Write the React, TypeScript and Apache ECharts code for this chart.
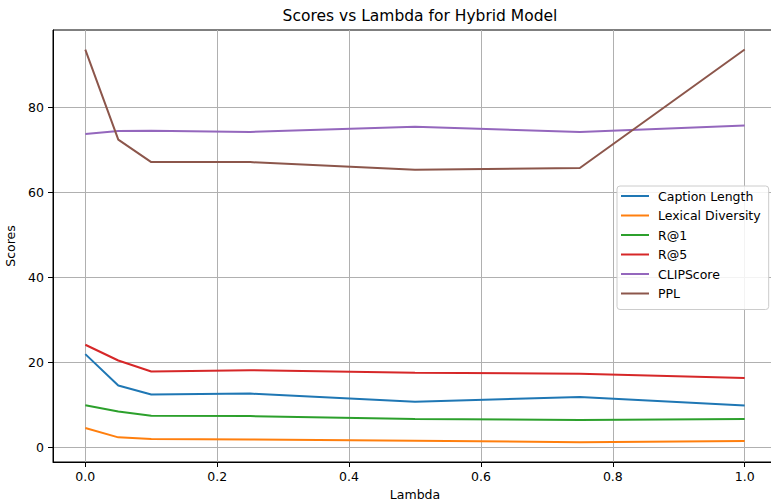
import React, { useEffect, useRef } from "react";
import * as echarts from "echarts";

const lambdas = [0, 0.05, 0.1, 0.25, 0.5, 0.75, 1.0];
const captionLength = [22.0, 14.6, 12.5, 12.7, 10.8, 11.9, 9.9];
const lexicalDiversity = [4.6, 2.4, 2.0, 1.9, 1.6, 1.25, 1.55];
const r1 = [9.95, 8.5, 7.5, 7.4, 6.7, 6.5, 6.7];
const r5 = [24.2, 20.5, 17.9, 18.2, 17.6, 17.4, 16.4];
const clipScore = [73.8, 74.5, 74.6, 74.3, 75.5, 74.3, 75.8];
const ppl = [93.7, 72.5, 67.2, 67.2, 65.4, 65.8, 93.7];

const seriesNames = ["Caption Length", "Lexical Diversity", "R@1", "R@5", "CLIPScore", "PPL"];
const seriesData = [captionLength, lexicalDiversity, r1, r5, clipScore, ppl];
const colors = ["#1f77b4", "#ff7f0e", "#2ca02c", "#d62728", "#9467bd", "#8c564b"];
const xTicks = [0, 0.2, 0.4, 0.6, 0.8, 1.0];
const yTicks = [0, 20, 40, 60, 80];

const FONT = "DejaVu Sans";

export default function App() {
  const ref = useRef<HTMLDivElement>(null);
  useEffect(() => {
    if (!ref.current) return;
    const chart = echarts.init(ref.current, undefined, { renderer: "svg" });
    chart.setOption({
      animation: false,
      backgroundColor: "#ffffff",
      color: colors,
      title: {
        text: "Scores vs Lambda for Hybrid Model",
        left: 415,
        textAlign: "center",
        top: 3,
        textStyle: { fontFamily: FONT, fontSize: 15.5, fontWeight: "normal", color: "#000" },
      },
      grid: {
        left: 53,
        right: -6,
        top: 30,
        bottom: 39,
        outerBoundsMode: "none",
        containLabel: false,
        show: true,
        borderColor: "#000",
        borderWidth: 1,
        backgroundColor: "transparent",
      },
      legend: {
        orient: "vertical",
        left: 617,
        top: 186,
        padding: [3, 8, 9, 4],
        itemWidth: 28,
        itemHeight: 2,
        itemGap: 5.5,
        icon: "rect",
        borderColor: "#cccccc",
        borderWidth: 1,
        borderRadius: 3,
        backgroundColor: "rgba(255,255,255,0.85)",
        textStyle: { fontFamily: FONT, fontSize: 12.5, color: "#000", lineHeight: 14, padding: [0, 0, 0, 4] },
        data: seriesNames,
      },
      xAxis: {
        type: "value",
        min: -0.049,
        max: 1.049,
        name: "Lambda",
        nameLocation: "middle",
        nameGap: 23,
        nameTextStyle: { fontFamily: FONT, fontSize: 12.5, color: "#000" },
        axisLine: { show: true, onZero: false, lineStyle: { color: "#000", width: 1 } },
        axisTick: { show: true, length: 5, customValues: xTicks, lineStyle: { color: "#000" } },
        axisLabel: {
          customValues: xTicks,
          fontFamily: FONT,
          fontSize: 12.5,
          color: "#000",
          margin: 8,
          formatter: (v: number) => v.toFixed(1),
        },
        splitLine: { show: true, lineStyle: { color: "#b0b0b0", width: 1 } },
      },
      yAxis: {
        type: "value",
        min: -3.4,
        max: 98.3,
        name: "Scores",
        nameLocation: "middle",
        nameGap: 30,
        nameRotate: 90,
        nameTextStyle: { fontFamily: FONT, fontSize: 12.5, color: "#000" },
        axisLine: { show: true, onZero: false, lineStyle: { color: "#000", width: 1 } },
        axisTick: { show: true, length: 5, customValues: yTicks, lineStyle: { color: "#000" } },
        axisLabel: {
          customValues: yTicks,
          fontFamily: FONT,
          fontSize: 12.5,
          color: "#000",
          margin: 9,
        },
        splitLine: { show: true, lineStyle: { color: "#b0b0b0", width: 1 } },
      },
      series: seriesNames.map((name, i) => ({
        name,
        type: "line",
        data: lambdas.map((x, j) => [x, seriesData[i][j]]),
        showSymbol: false,
        symbol: "none",
        lineStyle: { width: 2, color: colors[i] },
        itemStyle: { color: colors[i] },
      })),
    });
    return () => chart.dispose();
  }, []);
  return <div ref={ref} style={{ position: "fixed", left: 0, top: 0, width: 771, height: 501 }} />;
}
